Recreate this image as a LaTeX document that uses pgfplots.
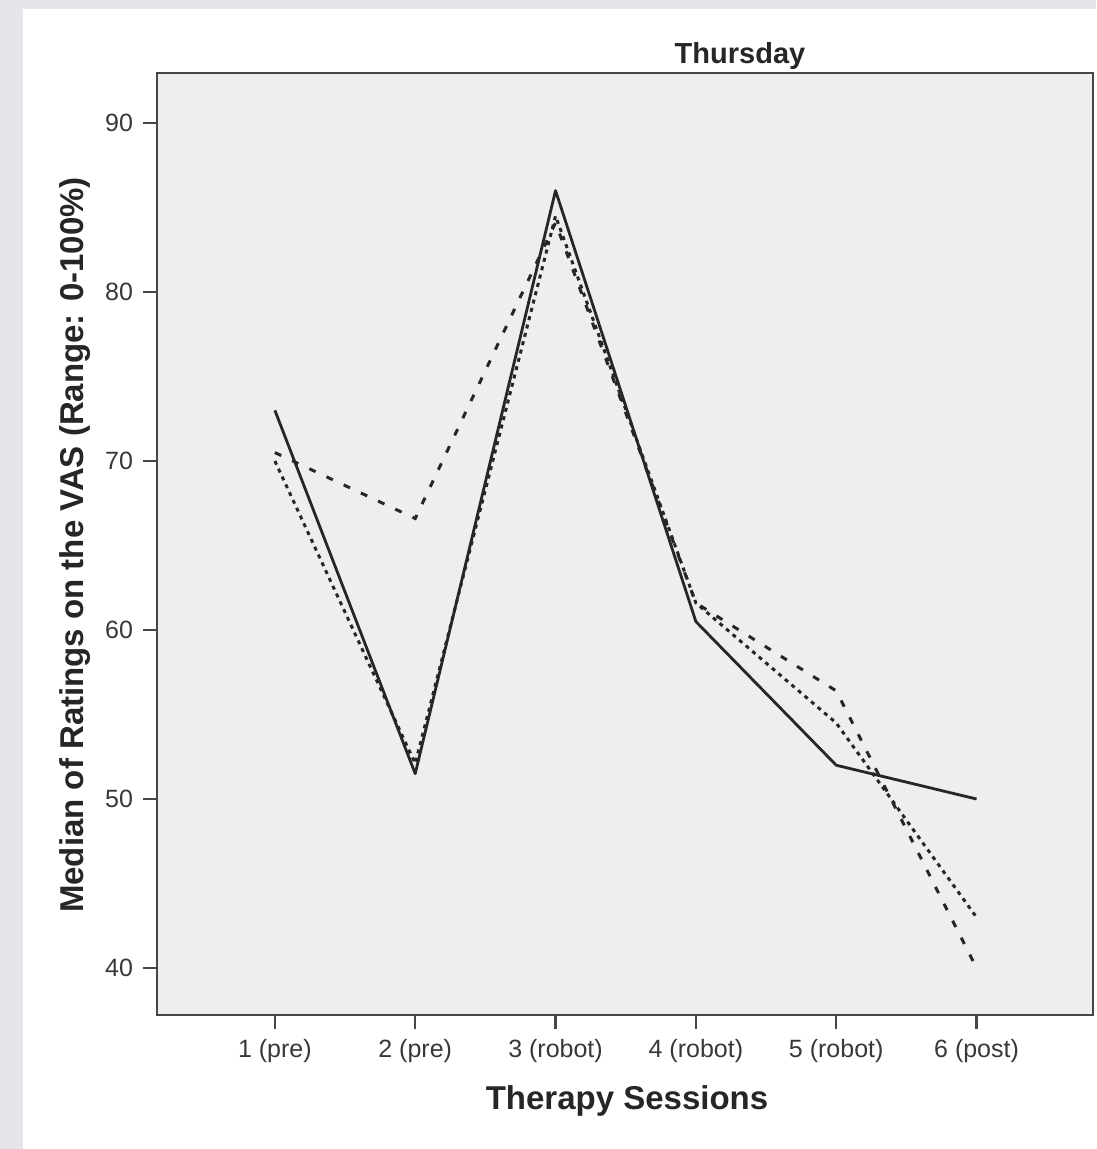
\documentclass[border=0pt]{standalone}
\usepackage{pgfplots}
\pgfplotsset{compat=1.18}
\usepackage{fontspec}
\setmainfont{Liberation Sans}

\definecolor{pagebg}{RGB}{228,230,235}
\definecolor{plotbg}{RGB}{238,238,238}
\definecolor{frame}{RGB}{70,70,70}

% median VAS ratings per session (three raters)
\pgfplotstableread{
x y
1 73
2 51.5
3 86
4 60.5
5 52
6 50
}\solidseries
\pgfplotstableread{
x y
1 70.5
2 66.6
3 84.1
4 61.6
5 56.4
6 40
}\dashedseries
\pgfplotstableread{
x y
1 70
2 52.1
3 84.5
4 61.6
5 54.5
6 43
}\dottedseries

\begin{document}
\begin{tikzpicture}
  % page and panel
  \fill[pagebg] (0pt,0pt) rectangle (548pt,-574.5pt);
  \fill[white] (11.5pt,-4.5pt) rectangle (548pt,-574.5pt);

  \begin{axis}[
    at={(78.5pt,-507.5pt)}, anchor=south west,
    scale only axis, width=468pt, height=471pt,
    xmin=0.16, xmax=6.83, ymin=37.22, ymax=92.96,
    axis background/.style={fill=plotbg},
    axis line style={line width=1.3pt, frame},
    xtick={1,2,3,4,5,6},
    xticklabels={1 (pre),2 (pre),3 (robot),4 (robot),5 (robot),6 (post)},
    ytick={40,50,60,70,80,90},
    xtick pos=left, ytick pos=left,
    tick align=outside,
    major tick length=7pt,
    tick style={line width=1.1pt, frame},
    ticklabel style={font=\fontsize{12.5}{14}\selectfont, text=black!78},
    /pgf/number format/assume math mode=true,
    xticklabel style={yshift=-1.5pt},
    yticklabel style={xshift=-1.5pt},
  ]
    \addplot[line width=1.4pt, black!85, line join=round] table[x=x,y=y] {\solidseries};
    \addplot[line width=1.5pt, black!85, dash pattern=on 3.5pt off 6pt] table[x=x,y=y] {\dashedseries};
    \addplot[line width=1.5pt, black!85, dash pattern=on 2pt off 2.3pt] table[x=x,y=y] {\dottedseries};
  \end{axis}

  % title and axis labels
  \node[font=\bfseries\fontsize{14.5}{16}\selectfont, text=black!85] at (370pt,-28pt) {Thursday};
  \node[font=\bfseries\fontsize{16.5}{18}\selectfont, text=black!85] at (313.5pt,-550.5pt) {Therapy Sessions};
  \node[font=\bfseries\fontsize{16.5}{18}\selectfont, text=black!85, rotate=90] at (37.5pt,-272.5pt) {Median of Ratings on the VAS (Range: 0-100\%)};
\end{tikzpicture}
\end{document}
